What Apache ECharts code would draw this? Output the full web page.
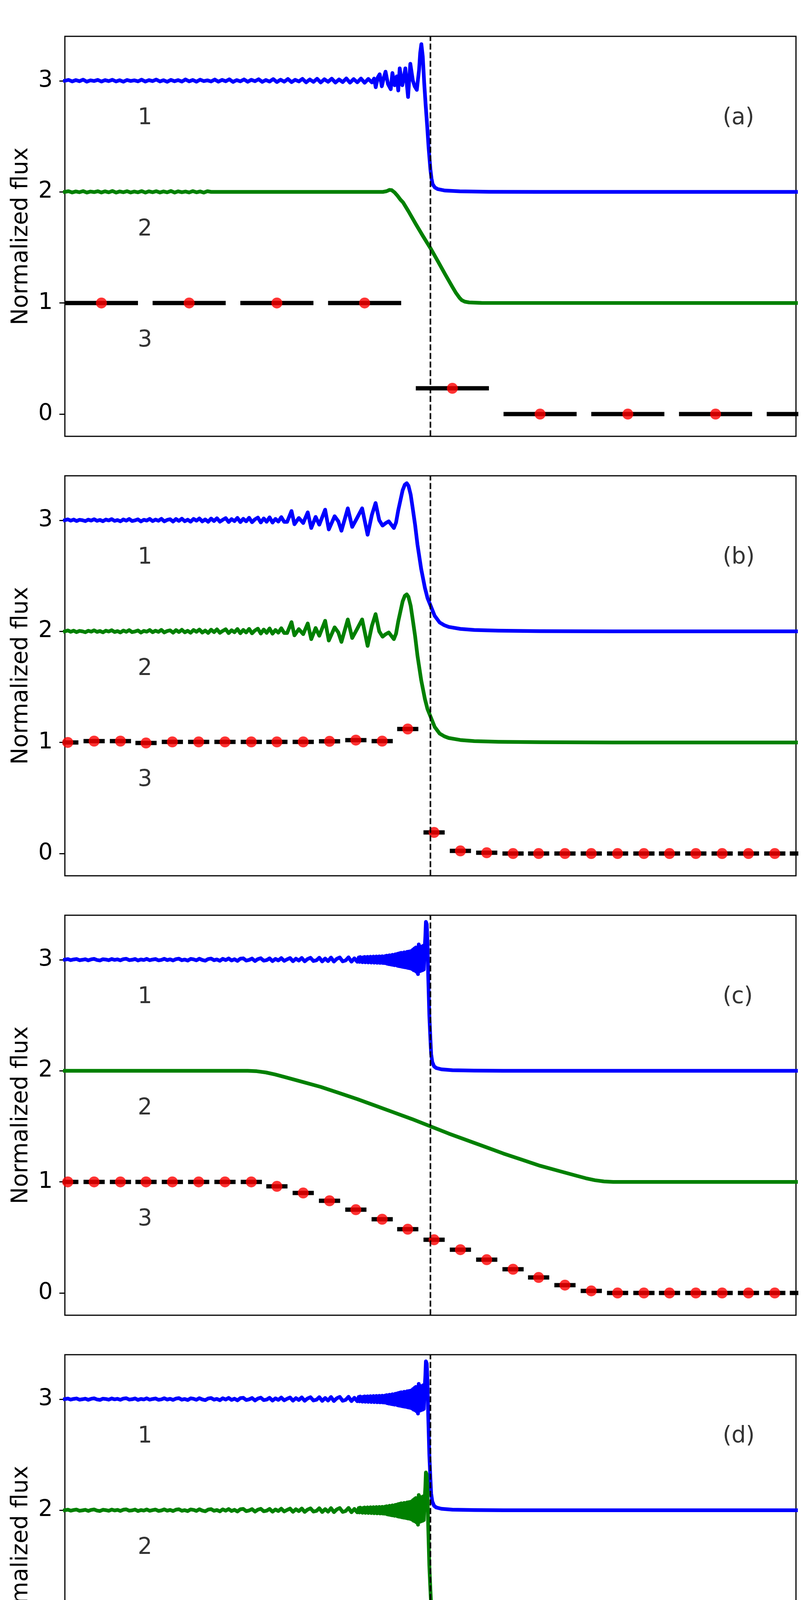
<!DOCTYPE html>
<html>
<head>
<meta charset="utf-8">
<title>Occultation light curves</title>
<script src="https://cdn.jsdelivr.net/npm/echarts@6/dist/echarts.min.js"></script>
<style>
html, body { margin: 0; padding: 0; background: #fff; overflow: hidden; }
#chart { width: 2078px; height: 4677px; }
</style>
</head>
<body>
<div id="chart"></div>
<script>
// labels and ticks
var panelLabels = ['(a)', '(b)', '(c)', '(d)'];
var curveLabels = ['1', '2', '3'];
var curveOffsets = [2, 1, 0];       // vertical shift of curves 1, 2, 3
var curveLabelT = -4;
var curveLabelY = [2.6, 1.6, 0.6];
var panelLabelT = 4;
var xTicks = [-4, -2, 0, 2, 4];
var yTicks = [0, 1, 2, 3];

// (a) curve 1: evenly sampled from t=-5 every 0.05 up to -0.80, then read points
var a1Even = [1.000,1.008,0.994,1.006,0.996,1.010,0.992,1.004,0.998,1.008,
  0.993,1.006,0.997,1.009,0.994,1.005,0.992,1.007,0.998,1.004,
  0.995,1.010,0.993,1.006,0.997,1.011,0.994,1.005,0.991,1.008,
  0.996,1.006,0.993,1.012,0.995,1.007,0.992,1.010,0.997,1.004,
  0.994,1.011,0.992,1.008,0.996,1.013,0.990,1.006,0.995,1.012,
  0.991,1.009,0.996,1.014,0.990,1.007,0.993,1.015,0.989,1.010,
  0.992,1.016,0.988,1.009,0.994,1.017,0.986,1.012,0.990,1.018,
  0.985,1.014,0.991,1.019,0.984,1.012,0.988,1.021,0.983,1.015,
  0.986,1.020,0.982,1.017,0.985];
var a1Tail = [[-0.77,1.02],[-0.748,0.942],[-0.72,1.03],[-0.694,1.059],[-0.665,0.95],[-0.64,1.02],
  [-0.614,1.082],[-0.58,0.97],[-0.543,0.924],[-0.52,1.07],[-0.49,0.96],[-0.46,1.04],[-0.44,0.912],
  [-0.42,1.112],[-0.385,0.96],[-0.365,1.02],[-0.343,1.112],[-0.306,0.854],[-0.275,1.153],[-0.24,1.0],
  [-0.215,0.95],[-0.186,0.918],[-0.155,1.1],[-0.14,1.25],[-0.124,1.33],[-0.105,1.22],[-0.085,0.98],
  [-0.065,0.78],[-0.045,0.6],[-0.025,0.4],[0,0.2],[0.015,0.12],[0.03,0.07],[0.06,0.04],[0.1,0.025],
  [0.2,0.012],[0.4,0.005],[0.8,0.001],[1.5,0],[5,0]];

// (a) curve 2: evenly sampled from t=-5 every 0.05 up to -3.0, then read points
var a2Even = [1.000,1.006,0.995,1.004,0.997,1.007,0.994,1.003,0.998,1.006,
  0.995,1.005,0.996,1.008,0.994,1.004,0.997,1.006,0.995,1.003,
  0.996,1.007,0.994,1.005,0.997,1.006,0.995,1.004,0.996,1.008,
  0.994,1.005,0.997,1.003,0.995,1.007,0.996,1.004,0.994,1.006,
  1.000];
var a2Tail = [[-2.95,1.0],[-0.65,1.0],[-0.6,1.006],[-0.56,1.018],[-0.53,1.016],[-0.49,0.995],
  [-0.45,0.965],[-0.41,0.93],[-0.374,0.905],[-0.3,0.825],[-0.2,0.71],[-0.1,0.60],[0,0.494],
  [0.1,0.378],[0.2,0.26],[0.3,0.145],[0.35,0.09],[0.4,0.045],[0.43,0.025],[0.47,0.012],
  [0.53,0.005],[0.7,0.001],[5,0]];

// (b) curves 1 and 2 (same shape): evenly sampled from t=-5 every 0.04 up to -2.0, then read points
var bEven = [1.000,1.008,0.996,1.006,0.993,1.004,1.000,0.992,1.005,0.997,
  1.009,0.995,1.003,0.991,1.006,0.998,1.010,0.994,1.002,0.990,
  1.007,0.996,1.011,0.993,0.999,1.008,0.989,1.004,0.997,1.012,
  0.992,1.006,0.995,1.013,0.990,1.003,1.009,0.988,1.011,0.994,
  1.014,0.991,1.005,0.987,1.012,0.996,1.016,0.989,1.007,0.986,
  1.015,0.993,1.018,0.987,1.004,1.019,0.984,1.010,0.992,1.021,
  0.983,1.013,0.990,1.022,0.982,1.008,1.024,0.980,1.016,0.986,
  1.026,0.979,1.012,0.988,1.028,0.985];
var bTail = [[-1.96,0.985],[-1.90,1.083],[-1.86,0.964],[-1.80,1.02],[-1.74,0.975],[-1.678,1.071],
  [-1.63,0.93],[-1.57,1.03],[-1.52,0.96],[-1.44,1.095],[-1.39,0.917],[-1.31,1.036],[-1.26,0.99],
  [-1.217,0.905],[-1.13,1.107],[-1.07,0.94],[-1.01,1.012],[-0.934,1.107],[-0.859,0.869],[-0.80,1.05],
  [-0.75,1.155],[-0.70,1.0],[-0.655,0.952],[-0.61,0.975],[-0.57,0.99],[-0.50,0.93],[-0.47,0.98],
  [-0.44,1.09],[-0.41,1.18],[-0.38,1.27],[-0.35,1.32],[-0.324,1.333],[-0.30,1.31],[-0.27,1.23],
  [-0.245,1.12],[-0.21,0.96],[-0.177,0.78],[-0.126,0.56],[-0.075,0.39],[-0.04,0.30],[0,0.235],
  [0.058,0.14],[0.126,0.08],[0.19,0.055],[0.25,0.04],[0.41,0.022],[0.6,0.012],[0.93,0.006],
  [1.5,0.002],[2.5,0],[5,0]];

// (c) curve 1, (d) curves 1 and 2: t=-5 every 0.04 to -1.0, then every 0.01 to -0.08, then read points
var fEven = [1.000,1.005,0.996,1.002,1.006,0.995,0.999,1.004,0.994,1.003,
  1.007,0.997,0.993,1.004,1.001,0.995,1.006,0.998,1.003,0.994,
  1.005,1.008,0.996,0.999,1.006,0.993,1.002,0.997,1.007,0.995,
  1.001,1.006,0.994,0.998,1.008,0.996,1.003,0.993,1.005,1.009,
  0.995,1.001,0.992,1.007,1.003,0.994,1.009,0.997,0.991,1.006,
  1.010,0.995,1.002,0.990,1.008,0.996,1.011,0.993,1.004,0.989,
  1.009,1.012,0.992,0.998,1.010,0.988,1.005,1.013,0.991,0.996,
  1.012,0.987,1.007,0.993,1.014,0.989,1.003,1.015,0.986,1.009,
  0.992,1.016,0.985,1.006,1.017,0.988,0.994,1.018,0.984,1.010,
  0.987,1.019,0.983,1.008,1.020,0.985,0.993,1.021,0.982,1.012,
  0.981];
var fRipple = [1.020,0.980,1.024,0.986,1.017,0.977,1.021,0.982,1.025,0.976,
  1.019,0.984,1.026,0.975,1.018,0.981,1.027,0.974,1.022,0.979,
  1.028,0.973,1.020,0.977,1.029,0.972,1.024,0.975,1.030,0.971,
  1.026,0.973,1.031,0.970,1.028,0.969,1.032,0.968,
  1.036,0.963,1.034,0.960,1.040,0.958,1.038,0.955,1.044,0.953,1.042,0.950,1.048,0.952,1.050,
  0.945,1.055,0.942,1.058,0.940,1.062,0.937,1.060,0.934,1.066,0.932,1.064,0.930,1.070,0.926,
  1.072,0.924,1.075,0.921,1.078,
  0.915,1.090,0.905,1.100,0.900,1.110,0.890,1.105,0.870,1.137,0.895,1.120,0.900,1.115,0.905,
  1.125,0.912,1.090];
var fTail = [[-0.07,1.20],[-0.062,1.34],[-0.05,1.32],[-0.04,1.15],[-0.03,0.85],[-0.015,0.5],
  [0,0.28],[0.01,0.15],[0.025,0.08],[0.05,0.04],[0.08,0.025],[0.15,0.013],[0.3,0.005],
  [0.6,0.002],[1.0,0],[5,0]];

// (c) curve 2
var cDisk = [[-5,1],[-2.5,1],[-2.375,0.996],[-2.25,0.985],[-2.125,0.967],[-2.0,0.945],[-1.75,0.90],
  [-1.5,0.855],[-1.25,0.80],[-1.0,0.745],[-0.75,0.685],[-0.5,0.625],[-0.25,0.565],[0,0.5],
  [0.25,0.435],[0.5,0.375],[0.75,0.315],[1.0,0.255],[1.25,0.2],[1.5,0.145],[1.75,0.10],
  [2.0,0.055],[2.125,0.033],[2.25,0.015],[2.375,0.004],[2.5,0],[5,0]];

// curve 3: binned values
var aBinT = [-4.5, -3.3, -2.1, -0.9, 0.3, 1.5, 2.7, 3.9, 5.1];
var aBinF = [1, 1, 1, 1, 0.232, 0, 0, 0, 0];
var aBinHalf = 0.5;
var bcBinT = [-4.96,-4.60,-4.24,-3.89,-3.53,-3.17,-2.81,-2.45,-2.10,-1.74,-1.38,-1.02,-0.66,-0.31,
  0.05,0.41,0.77,1.13,1.48,1.84,2.20,2.56,2.92,3.27,3.63,3.99,4.35,4.71,5.06];
var bBinF = [1.0,1.012,1.012,0.995,1.005,1.005,1.005,1.005,1.005,1.005,1.01,1.021,1.012,1.121,
  0.19,0.024,0.007,0,0,0,0,0,0,0,0,0,0,0,0];
var cBinF = [1,1,1,1,1,1,1,1,0.96,0.90,0.83,0.75,0.664,0.574,0.479,0.39,0.30,0.214,0.14,0.071,
  0.019,0,0,0,0,0,0,0,0];
var bcBinHalf = 0.145;
var dBinT = [-4.5, -1.5, 1.5, 4.5];
var dBinF = [1, 1, 0, 0];
var dBinHalf = 1.25;

var FONT = 'DejaVu Sans';
var BLUE = '#0000ff', GREEN = '#008000', RED = '#ff0000';

function even(start, step, vals) {
  return vals.map(function (v, i) { return [start + i * step, v]; });
}
function shift(points, offset) {
  return points.map(function (p) {
    return [p[0], typeof p[1] === 'number' ? p[1] + offset : p[1]];
  });
}
// one horizontal segment per bin, broken with an empty point
function bars(ts, fs, half) {
  var out = [];
  ts.forEach(function (t, i) {
    out.push([t - half, fs[i]], [t + half, fs[i]], [t + half, '-']);
  });
  return out;
}
function minusFmt(v) {
  return v < 0 ? '\u2212' + Math.abs(v) : String(v);
}

var curveA1 = even(-5, 0.05, a1Even).concat(a1Tail);
var curveA2 = even(-5, 0.05, a2Even).concat(a2Tail);
var curveB = even(-5, 0.04, bEven).concat(bTail);
var curveF = even(-5, 0.04, fEven).concat(even(-0.98, 0.01, fRipple)).concat(fTail);

var panels = [
  { c1: curveA1, c2: curveA2, binT: aBinT, binF: aBinF, half: aBinHalf },
  { c1: curveB, c2: curveB, binT: bcBinT, binF: bBinF, half: bcBinHalf },
  { c1: curveF, c2: cDisk, binT: bcBinT, binF: cBinF, half: bcBinHalf },
  { c1: curveF, c2: curveF, binT: dBinT, binF: dBinF, half: dBinHalf }
];

var gridTop = [93, 1218, 2343, 3468];
var grids = [], xAxes = [], yAxes = [], series = [];

panels.forEach(function (p, i) {
  var last = i === panels.length - 1;
  grids.push({
    left: 166, width: 1871, top: gridTop[i], height: 1024,
    show: true, borderColor: '#000', borderWidth: 3, backgroundColor: 'transparent'
  });
  xAxes.push({
    gridIndex: i, type: 'value', min: -5, max: 5,
    axisLine: { show: false, onZero: false },
    splitLine: { show: false },
    axisTick: { show: last, customValues: xTicks, length: 14, lineStyle: { width: 3, color: '#000' } },
    axisLabel: { show: last, customValues: xTicks, margin: 28, fontSize: 58, lineHeight: 58,
      fontFamily: FONT, color: '#000', formatter: minusFmt },
    name: last ? 'Time relative to immersion time [seconds]' : '',
    nameLocation: 'middle', nameGap: 110,
    nameTextStyle: { fontSize: 59, lineHeight: 59, fontFamily: FONT, color: '#000' }
  });
  yAxes.push({
    gridIndex: i, type: 'value', min: -0.2, max: 3.4,
    axisLine: { show: false, onZero: false },
    splitLine: { show: false },
    axisTick: { show: true, customValues: yTicks, length: 14, lineStyle: { width: 3, color: '#000' } },
    axisLabel: { customValues: yTicks, margin: 31, fontSize: 58, lineHeight: 58,
      fontFamily: FONT, color: '#000' },
    name: 'Normalized flux', nameLocation: 'middle', nameGap: 82,
    nameTextStyle: { fontSize: 58, lineHeight: 58, fontFamily: FONT, color: '#000' }
  });

  var common = { xAxisIndex: i, yAxisIndex: i, animation: false, silent: true, emphasis: { disabled: true } };

  series.push(Object.assign({
    type: 'line', data: shift(p.c1, curveOffsets[0]), showSymbol: false, symbol: 'none', z: 2,
    lineStyle: { color: BLUE, width: 9.5, join: 'round', cap: 'square' }
  }, common));
  series.push(Object.assign({
    type: 'line', data: shift(p.c2, curveOffsets[1]), showSymbol: false, symbol: 'none', z: 2,
    lineStyle: { color: GREEN, width: 9.5, join: 'round', cap: 'square' }
  }, common));
  series.push(Object.assign({
    type: 'line', data: shift(bars(p.binT, p.binF, p.half), curveOffsets[2]),
    showSymbol: false, symbol: 'none', connectNulls: false, z: 3,
    lineStyle: { color: '#000', width: 11, cap: 'butt' }
  }, common));
  series.push(Object.assign({
    type: 'scatter', data: p.binT.map(function (t, k) { return [t, p.binF[k] + curveOffsets[2]]; }),
    symbol: 'circle', symbolSize: 28, itemStyle: { color: RED }, z: 4, clip: true
  }, common));
  // vertical dashed line at immersion time
  series.push(Object.assign({
    type: 'line', data: [[0, -0.2], [0, 3.4]], showSymbol: false, symbol: 'none', z: 5,
    lineStyle: { color: '#000', width: 4, type: [15.5, 6.5] }
  }, common));
  // text labels
  var texts = curveLabels.map(function (c, k) { return [curveLabelT, curveLabelY[k], c]; });
  texts.push([panelLabelT, curveLabelY[0], panelLabels[i]]);
  series.push(Object.assign({
    type: 'scatter', data: texts, symbolSize: 1, itemStyle: { color: 'rgba(0,0,0,0)' }, z: 6,
    label: {
      show: true, position: [0, 0], align: 'left', verticalAlign: 'bottom', offset: [0, 12],
      fontSize: 58, lineHeight: 58, fontFamily: FONT, color: '#000',
      formatter: function (d) { return d.data[2]; }
    }
  }, common));
});

var myChart = echarts.init(document.getElementById('chart'), null, { renderer: 'canvas' });
myChart.setOption({
  backgroundColor: '#fff',
  animation: false,
  grid: grids,
  xAxis: xAxes,
  yAxis: yAxes,
  series: series
});
</script>
</body>
</html>
